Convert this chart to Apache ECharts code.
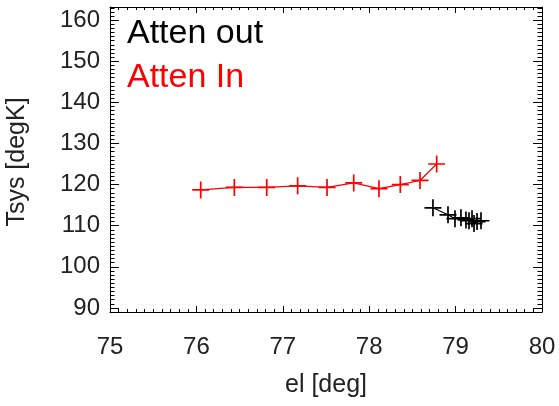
<!DOCTYPE html>
<html><head><meta charset="utf-8">
<script src="https://cdn.jsdelivr.net/npm/echarts@6/dist/echarts.min.js"></script>
<style>html,body{margin:0;padding:0;background:#fff}#c{width:559px;height:406px}</style>
</head><body><div id="c"></div>
<script>
// ---- data ----
const xTicks = [75, 76, 77, 78, 79, 80];
const yTicks = [90, 100, 110, 120, 130, 140, 150, 160];
const attenInEl   = [76.050, 76.439, 76.814, 77.172, 77.512, 77.821, 78.113, 78.360, 78.588, 78.781];
const attenInTsys = [118.7, 119.3, 119.3, 119.7, 119.3, 120.4, 119.0, 120.0, 121.0, 125.0];
const attenOutEl   = [78.738, 78.912, 78.993, 79.062, 79.120, 79.155, 79.190, 79.213, 79.248, 79.294];
const attenOutTsys = [114.35, 112.65, 111.7, 111.9, 111.4, 111.2, 111.7, 110.5, 111.0, 111.2];
const legendLabels = ['Atten out', 'Atten In'];
const xTitle = 'el [deg]';
const yTitle = 'Tsys [degK]';

const X_MIN = 75, X_MAX = 80, Y_MIN = 89, Y_MAX = 163.2;
const FONT = '"Liberation Sans", Arial, Helvetica, sans-serif';
const yMinor = [];
for (let v = Math.ceil(Y_MIN); v <= Math.floor(Y_MAX); v++) yMinor.push(v);

const plus = 'path://M-1,-10 L1,-10 L1,-1 L10,-1 L10,1 L1,1 L1,10 L-1,10 L-1,1 L-10,1 L-10,-1 L-1,-1 Z';
const line = { show: true, lineStyle: { color: '#000', width: 1 } };

function xAx(pos, labels) {
  const ax = {
    type: 'value', position: pos, min: X_MIN, max: X_MAX, interval: 1,
    axisLine: line,
    axisTick: { show: true, inside: true, length: 6, lineStyle: { color: '#000', width: 1 } },
    minorTick: { show: true, splitNumber: 10, length: 3, lineStyle: { color: '#000', width: 1 } },
    axisLabel: { show: labels, customValues: xTicks, fontSize: 24, fontFamily: FONT, color: '#222', margin: 23 },
    splitLine: { show: false }
  };
  if (labels) {
    ax.name = xTitle;
    ax.nameLocation = 'middle';
    ax.nameGap = 61;
    ax.nameTextStyle = { fontSize: 25, fontFamily: FONT, color: '#222' };
  }
  return ax;
}
function yAx(pos, major, labels) {
  return {
    type: 'value', position: pos, offset: 0, min: Y_MIN, max: Y_MAX,
    axisLine: major ? line : { show: false },
    axisTick: { show: true, inside: true, length: major ? 9 : 4.5, customValues: major ? yTicks : yMinor,
                lineStyle: { color: '#000', width: 1 } },
    axisLabel: { show: labels, customValues: yTicks, fontSize: 24, fontFamily: FONT, color: '#222', margin: 10 },
    splitLine: { show: false }
  };
}

const chart = echarts.init(document.getElementById('c'), null, { renderer: 'canvas' });
chart.setOption({
  animation: false,
  backgroundColor: '#fff',
  grid: { left: 110, right: 17, top: 7, bottom: 94, containLabel: false },
  xAxis: [xAx('bottom', true), xAx('top', false)],
  yAxis: [yAx('left', true, true), yAx('left', false, false), yAx('right', true, false), yAx('right', false, false)],
  series: [
    {
      name: legendLabels[1], type: 'line', xAxisIndex: 0, yAxisIndex: 0,
      data: attenInEl.map((x, i) => [x, attenInTsys[i]]),
      symbol: plus, symbolSize: 17, showAllSymbol: true,
      lineStyle: { color: '#ff0000', width: 1.2 },
      itemStyle: { color: '#ff0000' }
    },
    {
      name: legendLabels[0], type: 'line', xAxisIndex: 0, yAxisIndex: 0,
      data: attenOutEl.map((x, i) => [x, attenOutTsys[i]]),
      symbol: plus, symbolSize: 17, showAllSymbol: true,
      lineStyle: { color: '#000', width: 1.2 },
      itemStyle: { color: '#000' }
    }
  ],
  graphic: [
    { type: 'text', left: 127, top: 17, style: { text: legendLabels[0], fontSize: 34, fontFamily: FONT, fill: '#000' } },
    { type: 'text', left: 127, top: 61, style: { text: legendLabels[1], fontSize: 34, fontFamily: FONT, fill: '#ff0000' } },
    { type: 'text', x: 17, y: 162, rotation: Math.PI / 2, style: { text: yTitle, fontSize: 25, fontFamily: FONT, fill: '#222', align: 'center', verticalAlign: 'middle' } }
  ]
});
</script>
</body></html>
